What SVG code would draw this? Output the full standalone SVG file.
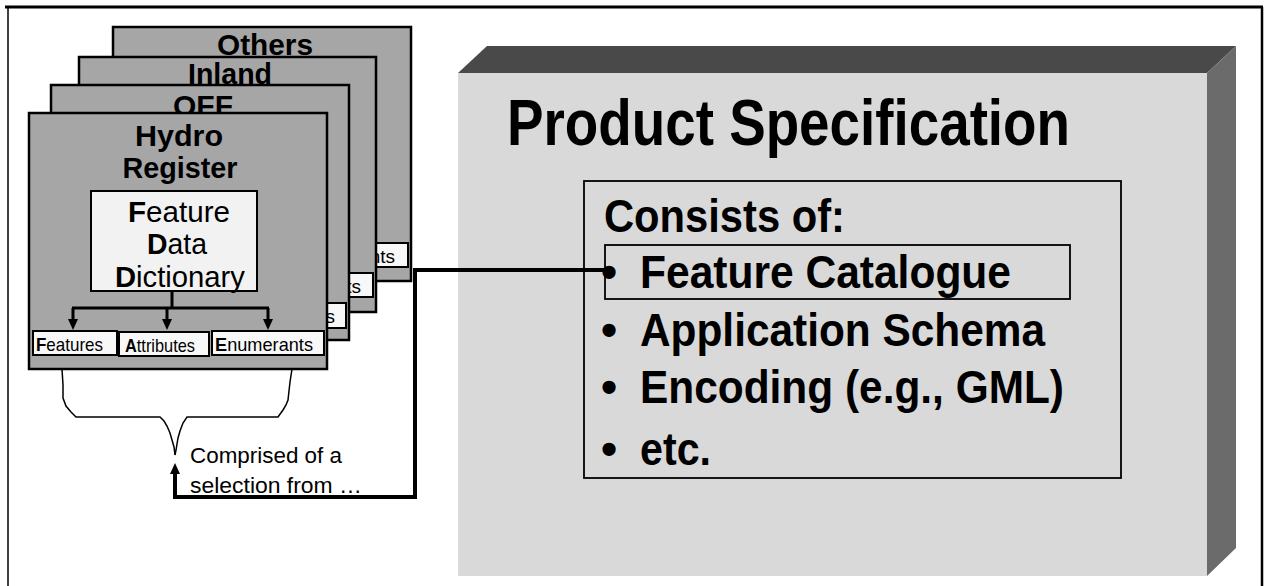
<svg xmlns="http://www.w3.org/2000/svg" width="1269" height="586" viewBox="0 0 1269 586">
  <style>
    text { font-family: "Liberation Sans", Arial, sans-serif; fill: #000; }
    .card { fill: #a6a6a6; stroke: #000; stroke-width: 2.5; }
    .sub { fill: #f8f8f8; stroke: #000; stroke-width: 2; }
    .title { font-size: 30px; font-weight: bold; text-anchor: middle; }
    .fdd { font-size: 30px; text-anchor: middle; }
    .small { font-size: 19px; }
    .b { font-weight: bold; }
    .big { font-size: 46px; font-weight: bold; }
    .wire { fill: none; stroke: #000; }
    .frame { stroke: #000; fill: none; }
  </style>
  <defs>
    <marker id="ah" viewBox="0 0 11 10" refX="0" refY="5" markerWidth="11" markerHeight="10" markerUnits="userSpaceOnUse" orient="auto">
      <path d="M0,0 L11,5 L0,10 z" fill="#000"/>
    </marker>
  </defs>

  <!-- outer frame -->
  <g id="frame">
    <line class="frame" x1="5" y1="7" x2="1263" y2="7" stroke-width="3"/>
    <line class="frame" x1="8" y1="8" x2="8" y2="586" stroke-width="1.5"/>
    <line class="frame" x1="1262" y1="7" x2="1262" y2="586" stroke-width="2.5"/>
  </g>

  <!-- Product specification 3D box -->
  <g id="product-spec">
    <polygon points="458,73 487,46 1236,46 1207,73" fill="#494949"/>
    <polygon points="1207,73 1236,46 1236,548 1207,576" fill="#6b6b6b"/>
    <rect x="458" y="73" width="749" height="503" fill="#d9d9d9"/>
    <text x="507" y="145" font-size="65" font-weight="bold" textLength="563" lengthAdjust="spacingAndGlyphs">Product Specification</text>
  </g>

  <g id="consists">
    <rect x="584" y="181" width="537" height="297" fill="none" stroke="#000" stroke-width="1.8"/>
    <text class="big" x="604" y="232" textLength="241" lengthAdjust="spacingAndGlyphs">Consists of:</text>
  </g>

  <g id="feature-catalogue">
    <rect x="605" y="245" width="465" height="54" fill="none" stroke="#000" stroke-width="1.8"/>
    <text class="big" x="601" y="288">•</text>
    <text class="big" x="640" y="288" textLength="371" lengthAdjust="spacingAndGlyphs">Feature Catalogue</text>
  </g>
  <g id="application-schema">
    <text class="big" x="601" y="346">•</text>
    <text class="big" x="640" y="346" textLength="405" lengthAdjust="spacingAndGlyphs">Application Schema</text>
  </g>
  <g id="encoding">
    <text class="big" x="601" y="403">•</text>
    <text class="big" x="640" y="403" textLength="424" lengthAdjust="spacingAndGlyphs">Encoding (e.g., GML)</text>
  </g>
  <g id="etc">
    <text class="big" x="601" y="465">•</text>
    <text class="big" x="640" y="465" textLength="71" lengthAdjust="spacingAndGlyphs">etc.</text>
  </g>

  <!-- stacked register cards -->
  <g id="card-others">
    <rect class="card" x="113" y="27" width="298" height="254"/>
    <text class="title" x="265" y="55" textLength="96" lengthAdjust="spacingAndGlyphs">Others</text>
    <rect class="sub" x="296" y="243" width="112" height="24"/>
    <text class="small" x="395" y="263" text-anchor="end">nts</text>
  </g>
  <g id="card-inland">
    <rect class="card" x="79" y="57" width="297" height="255"/>
    <text class="title" x="230" y="84" textLength="84" lengthAdjust="spacingAndGlyphs">Inland</text>
    <rect class="sub" x="261" y="273" width="112" height="24"/>
    <text class="small" x="361" y="293" text-anchor="end">ts</text>
  </g>
  <g id="card-off">
    <rect class="card" x="51" y="85" width="298" height="255"/>
    <text class="title" x="203" y="116" font-size="28" textLength="60" lengthAdjust="spacingAndGlyphs">OFF</text>
    <rect class="sub" x="234" y="303" width="112" height="25"/>
    <text class="small" x="335" y="323" text-anchor="end">s</text>
  </g>
  <g id="card-hydro">
    <rect class="card" x="29" y="113" width="298" height="256"/>
    <text class="title" x="179" y="146" textLength="88" lengthAdjust="spacingAndGlyphs">Hydro</text>
    <text class="title" x="180" y="178" textLength="115" lengthAdjust="spacingAndGlyphs">Register</text>
  </g>
  <g id="fdd">
    <rect x="91" y="191" width="166" height="100" fill="#f2f2f2" stroke="#000" stroke-width="2"/>
    <text class="fdd" x="179" y="222" textLength="102" lengthAdjust="spacingAndGlyphs"><tspan class="b">F</tspan>eature</text>
    <text class="fdd" x="177" y="254" textLength="60" lengthAdjust="spacingAndGlyphs"><tspan class="b">D</tspan>ata</text>
    <text class="fdd" x="180" y="287" textLength="130" lengthAdjust="spacingAndGlyphs"><tspan class="b">D</tspan>ictionary</text>
  </g>
  <g id="features">
    <rect class="sub" x="33" y="331" width="84" height="24"/>
    <text class="small" x="36" y="351" textLength="67" lengthAdjust="spacingAndGlyphs"><tspan class="b">F</tspan>eatures</text>
  </g>
  <g id="attributes">
    <rect class="sub" x="119" y="332" width="90" height="24"/>
    <text class="small" x="125" y="352" textLength="70" lengthAdjust="spacingAndGlyphs"><tspan class="b">A</tspan>ttributes</text>
  </g>
  <g id="enumerants">
    <rect class="sub" x="212" y="331" width="112" height="24"/>
    <text class="small" x="215" y="351" textLength="98" lengthAdjust="spacingAndGlyphs"><tspan class="b">E</tspan>numerants</text>
  </g>

  <!-- connectors -->
  <g id="connectors">
    <path class="wire" stroke-width="3" d="M172,291 V308 M72,308 H269"/>
    <line class="wire" stroke-width="3" x1="73" y1="308" x2="73" y2="319" marker-end="url(#ah)"/>
    <line class="wire" stroke-width="3" x1="167" y1="308" x2="167" y2="319" marker-end="url(#ah)"/>
    <line class="wire" stroke-width="3" x1="268" y1="308" x2="268" y2="319" marker-end="url(#ah)"/>
    <polyline class="wire" stroke-width="1.5" points="62,369 63,385 63,398 66,406 71,412 76,417 160,417 164,421 167,426 170,433 172,440 174,447 175,455"/>
    <polyline class="wire" stroke-width="1.5" points="292,369 290,382 289,391 288,400 286,405 283,410 278,417 187,417 183,423 180,431 178,438 177,444 176,450 175,455"/>
    <path class="wire" stroke-width="4" d="M607,270 H415 V497 H175 V474" marker-end="url(#ah)"/>
    <text x="190" y="463" font-size="22" textLength="152" lengthAdjust="spacingAndGlyphs">Comprised of a</text>
    <text x="190" y="493" font-size="22" textLength="172" lengthAdjust="spacingAndGlyphs">selection from …</text>
  </g>
</svg>
